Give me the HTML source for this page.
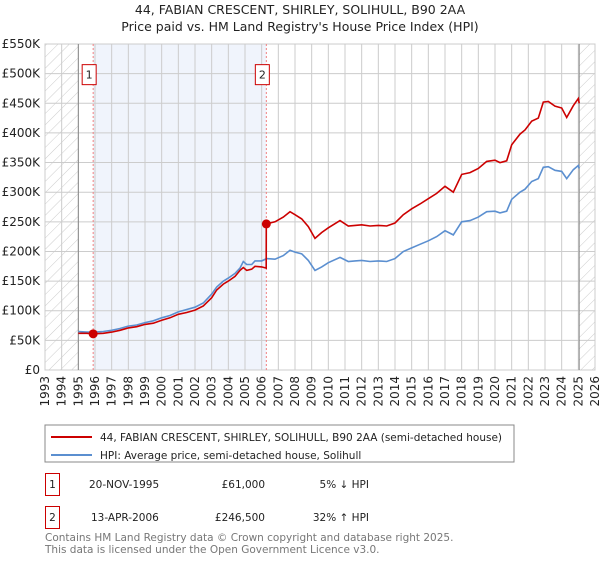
<!DOCTYPE html>
<html><head><meta charset="utf-8"><style>
body{margin:0;background:#fff;font-family:"Liberation Sans","DejaVu Sans",sans-serif;}
svg text{font-family:"DejaVu Sans","Liberation Sans",sans-serif;}
</style></head><body>
<svg width="600" height="560" xmlns="http://www.w3.org/2000/svg">
<defs><pattern id="hatch" width="8" height="8" patternUnits="userSpaceOnUse" patternTransform="rotate(45)"><line x1="0" y1="0" x2="0" y2="8" stroke="#ccc" stroke-width="1"/></pattern></defs>
<text x="300" y="14" text-anchor="middle" font-size="12.5" fill="#222">44, FABIAN CRESCENT, SHIRLEY, SOLIHULL, B90 2AA</text>
<text x="300" y="31" text-anchor="middle" font-size="12.5" fill="#222">Price paid vs. HM Land Registry's House Price Index (HPI)</text>
<g id="grid"></g>
<g id="marks"></g>
<g id="axes"></g>
<g>
<rect x="45" y="425" width="469" height="37" fill="#fff" stroke="#888"/>
<line x1="51" y1="437" x2="92" y2="437" stroke="#cc0000" stroke-width="2"/>
<text x="100" y="441" font-size="10.5" fill="#222">44, FABIAN CRESCENT, SHIRLEY, SOLIHULL, B90 2AA (semi-detached house)</text>
<line x1="51" y1="455" x2="92" y2="455" stroke="#5b8fd0" stroke-width="2"/>
<text x="100" y="459" font-size="10.5" fill="#222">HPI: Average price, semi-detached house, Solihull</text>
</g>
<g font-size="10.5" fill="#222">
<rect x="45.5" y="473.5" width="14" height="22" fill="none" stroke="#cc0000"/>
<text x="52.5" y="488" text-anchor="middle">1</text>
<text x="89" y="488">20-NOV-1995</text>
<text x="265" y="488" text-anchor="end">£61,000</text>
<text x="369" y="488" text-anchor="end">5% ↓ HPI</text>
<rect x="45.5" y="506.5" width="14" height="22" fill="none" stroke="#cc0000"/>
<text x="52.5" y="521" text-anchor="middle">2</text>
<text x="91" y="521">13-APR-2006</text>
<text x="265" y="521" text-anchor="end">£246,500</text>
<text x="369" y="521" text-anchor="end">32% ↑ HPI</text>
</g>
<text x="45" y="541" font-size="10.5" fill="#777">Contains HM Land Registry data © Crown copyright and database right 2025.</text>
<text x="45" y="553" font-size="10.5" fill="#777">This data is licensed under the Open Government Licence v3.0.</text>
</svg>
<script>
const yTicks=[0,50,100,150,200,250,300,350,400,450,500,550];
const yTickLabels=["£0","£50K","£100K","£150K","£200K","£250K","£300K","£350K","£400K","£450K","£500K","£550K"];
const xYears=[1993,1994,1995,1996,1997,1998,1999,2000,2001,2002,2003,2004,2005,2006,2007,2008,2009,2010,2011,2012,2013,2014,2015,2016,2017,2018,2019,2020,2021,2022,2023,2024,2025,2026];
const hpiT=[1995,1995.5,1996,1996.5,1997,1997.5,1998,1998.5,1999,1999.5,
2000,2000.5,2001,2001.5,2002,2002.5,2003,2003.3,2003.7,2004,
2004.4,2004.7,2004.9,2005.1,2005.4,2005.6,2006,2006.3,2006.8,2007.3,
2007.7,2008,2008.4,2008.8,2009.2,2009.6,2010,2010.7,2011.2,2011.6,
2012,2012.5,2013,2013.5,2014,2014.5,2015,2015.5,2016,2016.5,
2017,2017.5,2018,2018.5,2019,2019.5,2020,2020.3,2020.7,2021,
2021.5,2021.8,2022.2,2022.6,2022.9,2023.2,2023.6,2024,2024.3,2024.7,
2025,2025.05];
const hpiV=[65,64,64,65,67,70,74,76,80,83,
88,92,98,102,106,113,128,140,150,155,
163,172,183,178,178,184,184,188,187,193,
202,199,196,185,168,174,181,190,183,184,
185,183,184,183,188,200,206,212,218,225,
235,228,250,252,258,267,268,265,268,288,
300,305,318,323,342,343,337,335,323,338,
345,340];
const priceT=[1995,1995.5,1995.89,1996.5,1997,1997.5,1998,1998.5,1999,1999.5,
2000,2000.5,2001,2001.5,2002,2002.5,2003,2003.3,2003.7,2004,
2004.4,2004.7,2004.9,2005.1,2005.4,2005.6,2006,2006.27,2006.28,2006.8,
2007.3,2007.7,2008,2008.4,2008.8,2009.2,2009.6,2010,2010.7,2011.2,
2011.6,2012,2012.5,2013,2013.5,2014,2014.5,2015,2015.5,2016,
2016.5,2017,2017.5,2018,2018.5,2019,2019.5,2020,2020.3,2020.7,
2021,2021.5,2021.8,2022.2,2022.6,2022.9,2023.2,2023.6,2024,2024.3,
2024.7,2025,2025.05];
const priceV=[62,62,61,62,64,67,71,73,77,79,
84,88,94,97,101,108,122,135,145,150,
158,168,173,168,170,175,174,172,246.5,250,
258,267,262,255,242,222,232,240,252,243,
244,245,243,244,243,248,262,272,280,289,
298,310,300,330,333,340,352,354,350,353,
380,398,405,420,425,452,453,445,442,426,
446,458,450];
const X=y=>45+(y-1993)*(550/33), Y=v=>370-v*0.5927;
const NS="http://www.w3.org/2000/svg";
function mk(tag,attrs,parent){const e=document.createElementNS(NS,tag);for(const k in attrs)e.setAttribute(k,attrs[k]);parent.appendChild(e);return e;}
const grid=document.getElementById('grid'),marks=document.getElementById('marks'),axes=document.getElementById('axes');
let r=mk('rect',{x:45,y:Y(550),width:550,height:Y(0)-Y(550),fill:'#fff',stroke:'#ccc'},grid);


r=mk('rect',{x:X(1995.89),y:Y(550),width:X(2006.28)-X(1995.89),height:Y(0)-Y(550),fill:'#f0f4fc'},grid);


r=mk('rect',{x:45,y:Y(550),width:X(1995)-45,height:Y(0)-Y(550),fill:'url(#hatch)'},grid);


r=mk('rect',{x:X(2025.05),y:Y(550),width:595-X(2025.05),height:Y(0)-Y(550),fill:'url(#hatch)'},grid);


yTicks.forEach((v,i)=>{const l=mk('line',{x1:45,x2:595,y1:Y(v),y2:Y(v),stroke:'#ccc'},grid);


const t=mk('text',{x:40,y:Y(v)+4,'text-anchor':'end','font-size':'12',fill:'#222'},axes);t.textContent=yTickLabels[i];

});
xYears.forEach(yr=>{const l=mk('line',{x1:X(yr),x2:X(yr),y1:Y(550),y2:Y(0),stroke:'#ccc'},grid);


const t=mk('text',{transform:`translate(${X(yr)+4},376) rotate(-90)`,'text-anchor':'end','font-size':'12',fill:'#222'},axes);t.textContent=yr;

});
[1995,2025.05].forEach(yr=>{const l=mk('line',{x1:X(yr),x2:X(yr),y1:Y(550),y2:Y(0),stroke:'#888'},grid);

});
const sales=[[1995.89,61,'1'],[2006.28,246.5,'2']];
sales.forEach(s=>{const l=mk('line',{x1:X(s[0]),x2:X(s[0]),y1:Y(550),y2:Y(0),stroke:'#f08080','stroke-dasharray':'2,2'},marks);


const b=mk('rect',{x:X(s[0])-11,y:Y(500)-9,width:14,height:20,fill:'#fff',stroke:'#cc0000'},marks);


const t=mk('text',{x:X(s[0])-4,y:Y(500)+5,'text-anchor':'middle','font-size':'11',fill:'#222'},marks);t.textContent=s[2];

});
const hp=mk('path',{d:hpiT.map((t,i)=>(i?'L':'M')+X(t).toFixed(1)+','+Y(hpiV[i]).toFixed(1)).join(''),fill:'none',stroke:'#5b8fd0','stroke-width':1.6},marks);


const pp=mk('path',{d:priceT.map((t,i)=>(i?'L':'M')+X(t).toFixed(1)+','+Y(priceV[i]).toFixed(1)).join(''),fill:'none',stroke:'#cc0000','stroke-width':1.6},marks);


sales.forEach(s=>{const c=mk('circle',{cx:X(s[0]),cy:Y(s[1]),r:4.5,fill:'#cc0000'},marks);

});
</script>
</body></html>
